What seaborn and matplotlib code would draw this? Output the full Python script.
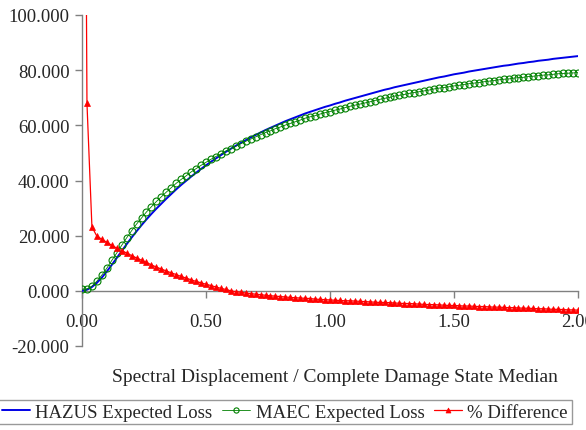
import matplotlib
matplotlib.use("Agg")
import numpy as np
import pandas as pd
import matplotlib.pyplot as plt
import seaborn as sns

# Sd / complete damage state median (table step 0.02)
sd_ratio = np.round(np.arange(0, 2.0001, 0.02), 2)

hazus_loss = [
    0.0, 0.4, 1.4, 2.9, 4.8, 7.0, 9.4, 11.9, 14.4, 16.9,
    19.3, 21.6, 23.8, 25.9, 27.9, 29.8, 31.6, 33.4, 35.1, 36.8,
    38.4, 39.9, 41.4, 42.8, 44.2, 45.5, 46.8, 48.0, 49.2, 50.4,
    51.5, 52.6, 53.6, 54.6, 55.6, 56.5, 57.4, 58.3, 59.1, 59.9,
    60.7, 61.5, 62.2, 62.9, 63.6, 64.3, 64.9, 65.5, 66.1, 66.7,
    67.2, 67.8, 68.3, 68.9, 69.4, 69.9, 70.4, 70.9, 71.4, 71.9,
    72.4, 72.9, 73.3, 73.8, 74.2, 74.6, 75.0, 75.4, 75.8, 76.2,
    76.6, 77.0, 77.4, 77.7, 78.1, 78.5, 78.8, 79.1, 79.5, 79.8,
    80.1, 80.4, 80.7, 81.0, 81.3, 81.6, 81.8, 82.1, 82.4, 82.6,
    82.9, 83.1, 83.4, 83.6, 83.8, 84.1, 84.3, 84.5, 84.7, 84.9,
    85.1,
]

maec_loss = [
    0.6, 0.7, 1.7, 3.5, 5.7, 8.2, 11.0, 13.7, 16.5, 19.2,
    21.8, 24.2, 26.4, 28.6, 30.5, 32.4, 34.1, 35.8, 37.4, 39.0,
    40.4, 41.7, 43.1, 44.3, 45.5, 46.6, 47.7, 48.7, 49.6, 50.7,
    51.5, 52.4, 53.3, 54.2, 55.0, 55.8, 56.6, 57.4, 58.0, 58.8,
    59.4, 60.1, 60.7, 61.3, 61.9, 62.6, 63.1, 63.5, 64.1, 64.6,
    65.0, 65.5, 65.9, 66.4, 66.9, 67.3, 67.7, 68.1, 68.5, 69.0,
    69.4, 69.8, 70.1, 70.6, 70.9, 71.2, 71.6, 71.9, 72.2, 72.5,
    72.8, 73.2, 73.5, 73.7, 74.0, 74.3, 74.5, 74.8, 75.1, 75.3,
    75.5, 75.8, 76.0, 76.2, 76.5, 76.7, 76.8, 77.1, 77.3, 77.4,
    77.7, 77.8, 78.0, 78.2, 78.3, 78.5, 78.7, 78.8, 78.9, 79.0,
    79.1,
]

pct_difference = [
    400.0, 68.0, 23.2, 19.8, 18.7, 17.6, 16.5, 15.5, 14.6, 13.7,
    12.8, 11.9, 11.1, 10.3, 9.4, 8.6, 7.9, 7.2, 6.5, 5.9,
    5.2, 4.6, 4.0, 3.4, 2.9, 2.4, 1.9, 1.4, 0.9, 0.5,
    0.0, -0.3, -0.5, -0.8, -1.0, -1.2, -1.4, -1.6, -1.8, -1.9,
    -2.1, -2.2, -2.4, -2.5, -2.6, -2.7, -2.8, -3.0, -3.1, -3.2,
    -3.3, -3.4, -3.5, -3.6, -3.6, -3.7, -3.8, -3.9, -4.0, -4.1,
    -4.2, -4.2, -4.3, -4.4, -4.5, -4.6, -4.6, -4.7, -4.8, -4.9,
    -5.0, -5.0, -5.1, -5.2, -5.3, -5.3, -5.4, -5.5, -5.5, -5.6,
    -5.7, -5.7, -5.8, -5.9, -5.9, -6.0, -6.1, -6.1, -6.2, -6.3,
    -6.3, -6.4, -6.5, -6.5, -6.6, -6.7, -6.7, -6.8, -6.9, -6.9,
    -7.0,
]

series_labels = ["HAZUS Expected Loss", "MAEC Expected Loss", "% Difference"]
y_ticks = [-20, 0, 20, 40, 60, 80, 100]
x_ticks = [0.0, 0.5, 1.0, 1.5, 2.0]
x_title = "Spectral Displacement / Complete Damage State Median"

sns.set_style("white")
plt.rcParams["font.family"] = ["Liberation Serif", "DejaVu Serif"]
FS = 13.5

fig = plt.figure(figsize=(5.86, 4.31), dpi=100)
ax = fig.add_axes([82 / 586, 1 - 347 / 431, (578 - 82) / 586, (347 - 16) / 431])

df = pd.DataFrame({"x": sd_ratio, "hazus": hazus_loss, "maec": maec_loss, "pct": pct_difference})

sns.lineplot(data=df, x="x", y="hazus", ax=ax, color="#0000e6", lw=1.4,
             label=series_labels[0], zorder=3)
sns.lineplot(data=df, x="x", y="maec", ax=ax, color="#008000", lw=0.6,
             marker="o", markersize=5.0, markerfacecolor="none",
             markeredgecolor="#008000", markeredgewidth=0.8,
             label=series_labels[1], zorder=4)
sns.lineplot(data=df, x="x", y="pct", ax=ax, color="#ff0000", lw=0.9,
             marker="^", markersize=4.8, markerfacecolor="#ff0000",
             markeredgecolor="#ff0000", markeredgewidth=0.5,
             label=series_labels[2], zorder=5)

ax.set_xlabel("")
ax.set_ylabel("")
for s in ["top", "right"]:
    ax.spines[s].set_visible(False)
ax.spines["bottom"].set_position(("data", 0))
for s in ["left", "bottom"]:
    ax.spines[s].set_color("#808080")
    ax.spines[s].set_linewidth(1.0)

ax.set_xlim(0, 2.0)
ax.set_ylim(-20, 100)
ax.set_yticks(y_ticks)
ax.set_yticklabels([f"{v:.3f}" for v in y_ticks])
ax.set_xticks(x_ticks)
ax.set_xticklabels([f"{v:.2f}" for v in x_ticks])
ax.tick_params(axis="y", direction="out", length=5, width=1, color="#808080",
               pad=4, left=True, labelsize=FS)
ax.tick_params(axis="x", direction="out", length=5, width=1, color="#808080",
               pad=11, bottom=True, labelsize=FS)

fig.text(335 / 586, 1 - 378 / 431, x_title, ha="center", va="center", fontsize=14)

handles, labels = ax.get_legend_handles_labels()
ax.get_legend().remove()
leg = fig.legend(handles, labels, loc="center", bbox_to_anchor=(0.486, 1 - 413 / 431),
                 ncol=3, fontsize=FS, frameon=True, fancybox=False,
                 handlelength=1.5, handletextpad=0.3, columnspacing=0.5,
                 borderpad=0.2, borderaxespad=0, markerscale=0.75)
leg.get_frame().set_edgecolor("#808080")
leg.get_frame().set_linewidth(1.0)

fig.savefig("out.png", dpi=100)
